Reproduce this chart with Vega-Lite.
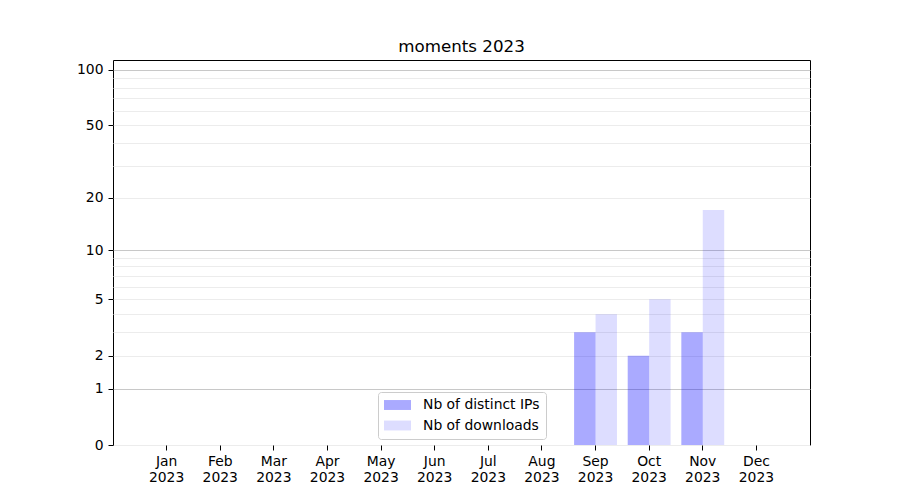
{
  "$schema": "https://vega.github.io/schema/vega-lite/v6.json",
  "width": 697,
  "height": 385,
  "autosize": {"type": "none"},
  "padding": {"left": 113, "top": 60, "right": 90, "bottom": 55},
  "background": "white",
  "title": {"text": "moments 2023", "fontSize": 16.7, "font": "DejaVu Sans", "fontWeight": "normal", "color": "black", "offset": 4},
  "config": {"view": {"stroke": "black", "strokeWidth": 1}, "font": "DejaVu Sans"},
  "data": {"values": [
    {"month": "Jan", "series": "Nb of distinct IPs", "value": 0},
    {"month": "Jan", "series": "Nb of downloads", "value": 0},
    {"month": "Feb", "series": "Nb of distinct IPs", "value": 0},
    {"month": "Feb", "series": "Nb of downloads", "value": 0},
    {"month": "Mar", "series": "Nb of distinct IPs", "value": 0},
    {"month": "Mar", "series": "Nb of downloads", "value": 0},
    {"month": "Apr", "series": "Nb of distinct IPs", "value": 0},
    {"month": "Apr", "series": "Nb of downloads", "value": 0},
    {"month": "May", "series": "Nb of distinct IPs", "value": 0},
    {"month": "May", "series": "Nb of downloads", "value": 0},
    {"month": "Jun", "series": "Nb of distinct IPs", "value": 0},
    {"month": "Jun", "series": "Nb of downloads", "value": 0},
    {"month": "Jul", "series": "Nb of distinct IPs", "value": 0},
    {"month": "Jul", "series": "Nb of downloads", "value": 0},
    {"month": "Aug", "series": "Nb of distinct IPs", "value": 0},
    {"month": "Aug", "series": "Nb of downloads", "value": 0},
    {"month": "Sep", "series": "Nb of distinct IPs", "value": 3},
    {"month": "Sep", "series": "Nb of downloads", "value": 4},
    {"month": "Oct", "series": "Nb of distinct IPs", "value": 2},
    {"month": "Oct", "series": "Nb of downloads", "value": 5},
    {"month": "Nov", "series": "Nb of distinct IPs", "value": 3},
    {"month": "Nov", "series": "Nb of downloads", "value": 17},
    {"month": "Dec", "series": "Nb of distinct IPs", "value": 0},
    {"month": "Dec", "series": "Nb of downloads", "value": 0}
  ]},
  "mark": {"type": "bar", "color": "#0000ff"},
  "encoding": {
    "x": {
      "field": "month", "type": "ordinal",
      "scale": {"domain": ["Jan","Feb","Mar","Apr","May","Jun","Jul","Aug","Sep","Oct","Nov","Dec"], "paddingInner": 0.2, "paddingOuter": 0.6},
      "axis": {"title": null, "labelAngle": 0, "domain": false, "grid": false, "ticks": true, "tickColor": "black", "tickSize": 5, "tickWidth": 1, "labelColor": "black", "labelFont": "DejaVu Sans", "labelFontSize": 13.9, "labelPadding": 4, "labelLineHeight": 16, "labelExpr": "[datum.label, '2023']"}
    },
    "xOffset": {"field": "series", "type": "nominal", "scale": {"domain": ["Nb of distinct IPs", "Nb of downloads"], "paddingInner": 0, "paddingOuter": 0}},
    "y": {
      "field": "value", "type": "quantitative",
      "scale": {"type": "symlog", "constant": 1, "domain": [0, 113], "nice": false},
      "axis": {
        "title": null, "domain": false,
        "values": [0,1,2,3,4,5,6,7,8,9,10,20,30,40,50,60,70,80,90,100],
        "format": "d",
        "labelExpr": "indexof([0,1,2,5,10,20,50,100], datum.value) >= 0 ? datum.label : ''",
        "tickOpacity": {"condition": {"test": "indexof([0,1,2,5,10,20,50,100], datum.value) >= 0", "value": 1}, "value": 0},
        "gridColor": {"condition": {"test": "datum.value == 1 || datum.value == 10 || datum.value == 100", "value": "#c8c8c8"}, "value": "#ececec"},
        "grid": true, "gridWidth": 1,
        "tickColor": "black", "tickSize": 5, "tickWidth": 1,
        "labelColor": "black", "labelFont": "DejaVu Sans", "labelFontSize": 13.9, "labelPadding": 5
      }
    },
    "color": {
      "field": "series", "type": "nominal",
      "scale": {"domain": ["Nb of distinct IPs", "Nb of downloads"], "range": ["#0000ff", "#0000ff"]},
      "legend": {
        "title": null, "orient": "none", "legendX": 265, "legendY": 332,
        "strokeColor": "#cccccc", "fillColor": "rgba(255,255,255,0.8)", "padding": 6, "cornerRadius": 3,
        "labelFont": "DejaVu Sans", "labelFontSize": 13.9, "labelColor": "black", "labelOffset": 25,
        "symbolType": "M-1,-0.71H2.86V0.71H-1Z", "symbolSize": 196, "symbolStrokeWidth": 0, "rowPadding": 6.5
      }
    },
    "opacity": {
      "field": "series", "type": "nominal",
      "scale": {"type": "ordinal", "domain": ["Nb of distinct IPs", "Nb of downloads"], "range": [0.333, 0.133]}
    }
  }
}
